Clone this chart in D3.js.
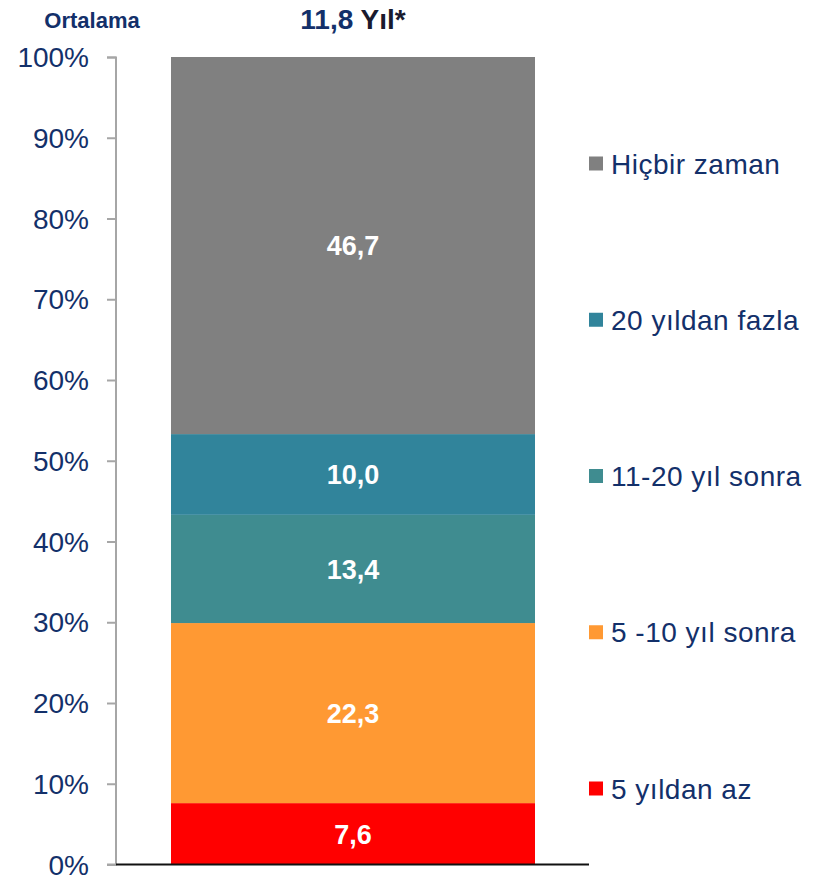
<!DOCTYPE html>
<html>
<head>
<meta charset="utf-8">
<script src="https://cdn.jsdelivr.net/npm/d3@7"></script>
<style>
  body { margin: 0; background: #fff; }
  svg { display: block; font-family: Arial, "Liberation Sans", sans-serif; }
  .tick text { fill: #13306a; font-size: 28px; }
  .legend text { fill: #13306a; font-size: 28px; letter-spacing: 0.5px; }
</style>
</head>
<body>
<svg id="chart"></svg>
<script>
var width = 819,
    height = 878;

// data, bottom to top
var categories = ['5 yıldan az', '5 -10 yıl sonra', '11-20 yıl sonra', '20 yıldan fazla', 'Hiçbir zaman'];
var values = [7.6, 22.3, 13.4, 10.0, 46.7];
var colors = ['#ff0000', '#ff9933', '#3f8c90', '#31849b', '#808080'];
var tickValues = [0, 10, 20, 30, 40, 50, 60, 70, 80, 90, 100];
var average = '11,8';

var svg = d3.select('#chart')
    .attr('width', width)
    .attr('height', height);

// bar spans 171..535
var barX = d3.scaleLinear().domain([0, 1]).range([171, 535]);

var y = d3.scaleLinear()
    .domain([0, 100])
    .range([864.5, 57]);

// stack the single bar
var stacked = [];
var acc = 0;
values.forEach(function (v, i) {
    stacked.push({ name: categories[i], value: v, y0: acc, y1: acc + v, color: colors[i] });
    acc += v;
});

// segments
svg.append('g').selectAll('rect')
    .data(stacked)
    .enter().append('rect')
    .attr('x', barX(0))
    .attr('width', barX(1) - barX(0))
    .attr('y', function (d) { return y(d.y1); })
    .attr('height', function (d) { return y(d.y0) - y(d.y1); })
    .style('fill', function (d) { return d.color; });

// value labels
svg.append('g').selectAll('text')
    .data(stacked)
    .enter().append('text')
    .attr('x', (barX(0) + barX(1)) / 2)
    .attr('y', function (d) { return (y(d.y0) + y(d.y1)) / 2; })
    .attr('dy', '0.36em')
    .attr('text-anchor', 'middle')
    .style('fill', '#fff')
    .style('font-weight', 'bold')
    .style('font-size', '27px')
    .text(function (d) { return d.value.toFixed(1).replace('.', ','); });

// y axis
var yAxis = svg.append('g')
    .attr('transform', 'translate(116,0)')
    .call(d3.axisLeft(y)
        .tickValues(tickValues)
        .tickSize(9)
        .tickFormat(function (d) { return d + '%'; }));

yAxis.selectAll('path, line')
    .style('stroke', '#a6a6a6')
    .style('stroke-width', 2);
yAxis.select('.domain').attr('d', 'M-9,57.5H0V864.5H-9');
yAxis.selectAll('.tick text')
    .attr('x', -27)
    .attr('dy', '0.34em')
    .style('font-family', 'Arial, "Liberation Sans", sans-serif');

// baseline
svg.append('line')
    .attr('x1', 116)
    .attr('x2', 589)
    .attr('y1', y(0))
    .attr('y2', y(0))
    .style('stroke', '#111')
    .style('stroke-width', 2);

// header
svg.append('text')
    .attr('x', 92)
    .attr('y', 28)
    .attr('text-anchor', 'middle')
    .style('fill', '#13306a')
    .style('font-weight', 'bold')
    .style('font-size', '22px')
    .text('Ortalama');

var avg = svg.append('text')
    .attr('x', (barX(0) + barX(1)) / 2)
    .attr('y', 29)
    .attr('text-anchor', 'middle')
    .style('font-weight', 'bold')
    .style('font-size', '28px');
avg.append('tspan').style('fill', '#13306a').text(average + ' ');
avg.append('tspan').style('fill', '#1a1a2e').text('Yıl*');

// legend, top entry first
var legendY = d3.scalePoint()
    .domain(categories.slice().reverse())
    .range([163.5, 788.5]);

var legend = svg.append('g')
    .attr('class', 'legend')
    .selectAll('g')
    .data(stacked.slice().reverse())
    .enter().append('g')
    .attr('transform', function (d) { return 'translate(589,' + legendY(d.name) + ')'; });

legend.append('rect')
    .attr('x', 0)
    .attr('y', -7)
    .attr('width', 14)
    .attr('height', 14)
    .style('fill', function (d) { return d.color; });

legend.append('text')
    .attr('x', 22)
    .attr('dy', '0.36em')
    .text(function (d) { return d.name; });
</script>
</body>
</html>
